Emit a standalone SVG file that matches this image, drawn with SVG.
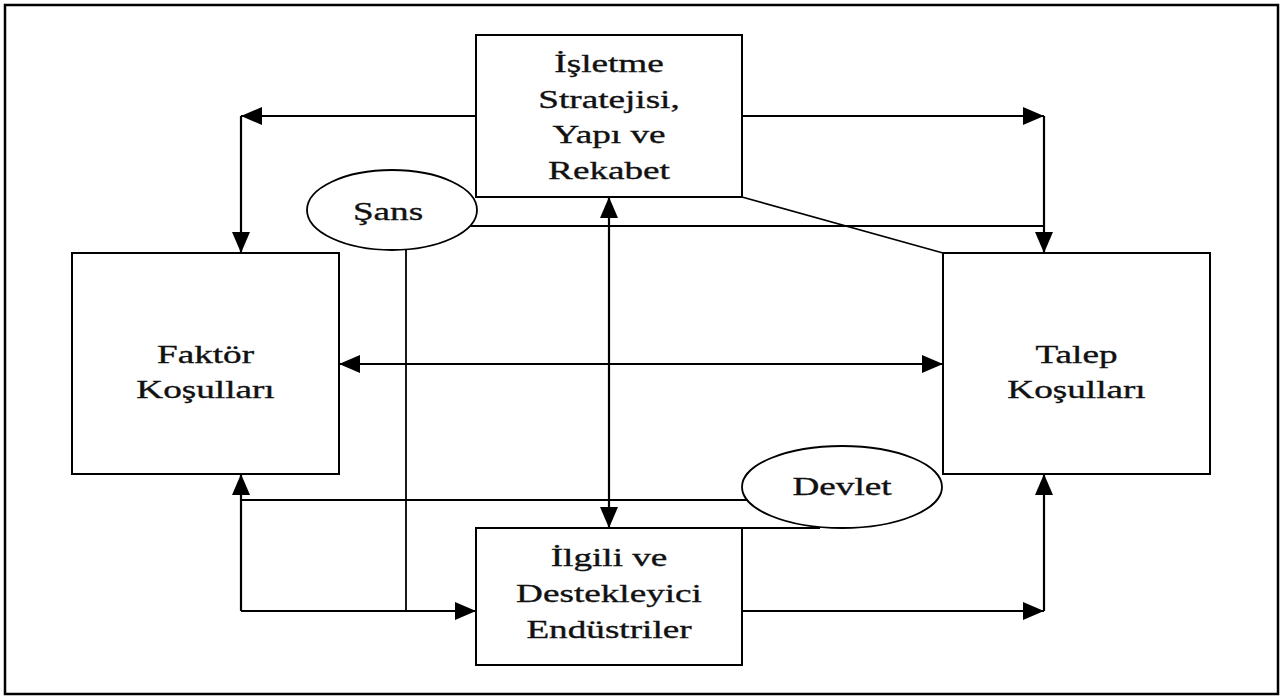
<svg xmlns="http://www.w3.org/2000/svg" width="1280" height="698" viewBox="0 0 1280 698">
<style>
  .box { fill: #fff; stroke: #000; stroke-width: 2; }
  .ell { fill: #fff; stroke: #000; stroke-width: 1.8; }
  .ln { fill: none; stroke: #000; stroke-width: 2.2; }
  .thin { fill: none; stroke: #000; stroke-width: 1.8; }
  .lbl { font-family: "Liberation Serif", "Times New Roman", serif; font-size: 26px; fill: #111; stroke: #111; stroke-width: 0.35; text-anchor: middle; }
</style>
<defs>
  <marker id="arr" markerUnits="userSpaceOnUse" markerWidth="22" markerHeight="20" viewBox="0 0 22 20" refX="21" refY="10" orient="auto-start-reverse">
    <path d="M0,1 L21,10 L0,19 z" fill="#000"/>
  </marker>
</defs>
<rect x="5" y="5" width="1273" height="689" fill="#fff" stroke="#000" stroke-width="2.5"/>

<g id="connectors">
  <path class="ln" d="M476,116 H241" marker-end="url(#arr)"/>
  <path class="ln" d="M241,116 V253" marker-end="url(#arr)"/>
  <path class="ln" d="M742,116 H1044" marker-end="url(#arr)"/>
  <path class="ln" d="M1044,116 V253" marker-end="url(#arr)"/>
  <path class="thin" d="M470,226 H1044"/>
  <path class="thin" d="M742,197 L943,253"/>
  <path class="ln" d="M609,197 V528" marker-start="url(#arr)" marker-end="url(#arr)"/>
  <path class="thin" d="M339,364 H943" marker-start="url(#arr)" marker-end="url(#arr)"/>
  <path class="thin" d="M406,249 V611"/>
  <path class="ln" d="M241,611 V474" marker-end="url(#arr)"/>
  <path class="thin" d="M241,611 H476" marker-end="url(#arr)"/>
  <path class="thin" d="M747,500 H241"/>
  <path class="thin" d="M742,528 H820"/>
  <path class="thin" d="M742,611 H1044" marker-end="url(#arr)"/>
  <path class="ln" d="M1044,611 V474" marker-end="url(#arr)"/>
</g>

<g id="isletme">
  <rect class="box" x="476" y="35" width="266" height="162"/>
  <g transform="translate(609,0) scale(1.43,1)">
    <text class="lbl" x="0" y="72">İşletme</text>
    <text class="lbl" x="0" y="108">Stratejisi,</text>
    <text class="lbl" x="0" y="143">Yapı ve</text>
    <text class="lbl" x="0" y="179">Rekabet</text>
  </g>
</g>

<g id="faktor">
  <rect class="box" x="72" y="253" width="267" height="221"/>
  <g transform="translate(205.5,0) scale(1.43,1)">
    <text class="lbl" x="0" y="363">Faktör</text>
    <text class="lbl" x="0" y="398">Koşulları</text>
  </g>
</g>

<g id="talep">
  <rect class="box" x="943" y="253" width="267" height="221"/>
  <g transform="translate(1076.5,0) scale(1.43,1)">
    <text class="lbl" x="0" y="363">Talep</text>
    <text class="lbl" x="0" y="398">Koşulları</text>
  </g>
</g>

<g id="ilgili">
  <rect class="box" x="476" y="528" width="266" height="137"/>
  <g transform="translate(609,0) scale(1.43,1)">
    <text class="lbl" x="0" y="566">İlgili ve</text>
    <text class="lbl" x="0" y="602">Destekleyici</text>
    <text class="lbl" x="0" y="638">Endüstriler</text>
  </g>
</g>

<g id="sans">
  <ellipse class="ell" cx="392" cy="210" rx="85" ry="40"/>
  <g transform="translate(388,0) scale(1.43,1)">
    <text class="lbl" x="0" y="220">Şans</text>
  </g>
</g>

<g id="devlet">
  <ellipse class="ell" cx="842" cy="487" rx="100" ry="41"/>
  <g transform="translate(842,0) scale(1.43,1)">
    <text class="lbl" x="0" y="495">Devlet</text>
  </g>
</g>
</svg>
